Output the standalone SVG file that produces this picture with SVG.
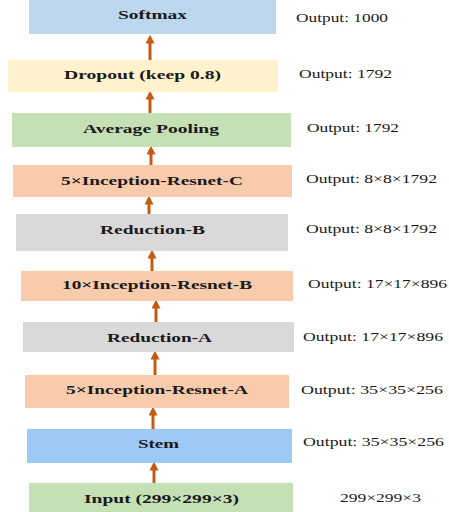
<svg xmlns="http://www.w3.org/2000/svg" width="449" height="512" viewBox="0 0 449 512">
<defs>
<style>
.lbl{font-family:"Liberation Serif","Times New Roman",serif;font-weight:bold;font-size:13.5px;fill:#1a1a1a;}
.out{font-family:"Liberation Serif","Times New Roman",serif;font-size:12.5px;fill:#1a1a1a;}
.arr{stroke:#c55a11;stroke-width:3;fill:none;marker-end:url(#ah);}
</style>
<marker id="ah" markerWidth="3" markerHeight="3" refX="1.2" refY="1.5" orient="auto" markerUnits="strokeWidth">
<path d="M0,0 L3,1.5 L0,3 Z" fill="#c55a11"/>
</marker>
</defs>
<rect width="449" height="512" fill="#ffffff"/>
<g id="connectors">
<line class="arr" x1="150" y1="60" x2="150" y2="40"/>
<line class="arr" x1="150" y1="113" x2="150" y2="96"/>
<line class="arr" x1="151" y1="165" x2="151" y2="151"/>
<line class="arr" x1="149" y1="214" x2="149" y2="201"/>
<line class="arr" x1="152" y1="271" x2="152" y2="255"/>
<line class="arr" x1="156" y1="322" x2="156" y2="305"/>
<line class="arr" x1="155" y1="375" x2="155" y2="356"/>
<line class="arr" x1="153" y1="429" x2="153" y2="412"/>
<line class="arr" x1="154" y1="483" x2="154" y2="467"/>
</g>
<g id="softmax">
<rect x="29" y="0" width="247" height="34" fill="#bdd7ee"/>
<text class="lbl" x="118" y="18.5" textLength="69" lengthAdjust="spacingAndGlyphs">Softmax</text>
<text class="out" x="296" y="21.5" textLength="92" lengthAdjust="spacingAndGlyphs">Output: 1000</text>
</g>
<g id="dropout">
<rect x="8" y="60" width="270" height="32" fill="#fff2cc"/>
<text class="lbl" x="64" y="78.5" textLength="157" lengthAdjust="spacingAndGlyphs">Dropout (keep 0.8)</text>
<text class="out" x="299" y="77.5" textLength="93" lengthAdjust="spacingAndGlyphs">Output: 1792</text>
</g>
<g id="avgpool">
<rect x="12" y="113" width="279" height="34" fill="#c5e0b4"/>
<text class="lbl" x="83" y="132.5" textLength="136" lengthAdjust="spacingAndGlyphs">Average Pooling</text>
<text class="out" x="307" y="132" textLength="92" lengthAdjust="spacingAndGlyphs">Output: 1792</text>
</g>
<g id="irc">
<rect x="13" y="165" width="279" height="32" fill="#f8cbad"/>
<text class="lbl" x="61" y="184.5" textLength="182" lengthAdjust="spacingAndGlyphs">5×Inception-Resnet-C</text>
<text class="out" x="306" y="183" textLength="131" lengthAdjust="spacingAndGlyphs">Output: 8×8×1792</text>
</g>
<g id="reductionB">
<rect x="16" y="214" width="272" height="37" fill="#d9d9d9"/>
<text class="lbl" x="100" y="233.5" textLength="105" lengthAdjust="spacingAndGlyphs">Reduction-B</text>
<text class="out" x="306" y="233" textLength="131" lengthAdjust="spacingAndGlyphs">Output: 8×8×1792</text>
</g>
<g id="irb">
<rect x="21" y="271" width="272" height="30" fill="#f8cbad"/>
<text class="lbl" x="62" y="288.5" textLength="190" lengthAdjust="spacingAndGlyphs">10×Inception-Resnet-B</text>
<text class="out" x="308" y="288" textLength="139" lengthAdjust="spacingAndGlyphs">Output: 17×17×896</text>
</g>
<g id="reductionA">
<rect x="23" y="322" width="271" height="30" fill="#d9d9d9"/>
<text class="lbl" x="107" y="341.5" textLength="105" lengthAdjust="spacingAndGlyphs">Reduction-A</text>
<text class="out" x="303" y="341" textLength="140" lengthAdjust="spacingAndGlyphs">Output: 17×17×896</text>
</g>
<g id="ira">
<rect x="25" y="375" width="264" height="33" fill="#f8cbad"/>
<text class="lbl" x="66" y="394" textLength="182" lengthAdjust="spacingAndGlyphs">5×Inception-Resnet-A</text>
<text class="out" x="301" y="393.5" textLength="142" lengthAdjust="spacingAndGlyphs">Output: 35×35×256</text>
</g>
<g id="stem">
<rect x="27" y="429" width="265" height="34" fill="#9dc9f5"/>
<text class="lbl" x="138" y="447.5" textLength="41" lengthAdjust="spacingAndGlyphs">Stem</text>
<text class="out" x="303" y="446" textLength="141" lengthAdjust="spacingAndGlyphs">Output: 35×35×256</text>
</g>
<g id="input">
<rect x="29" y="483" width="264" height="29" fill="#c5e0b4"/>
<text class="lbl" x="84" y="502.5" textLength="155" lengthAdjust="spacingAndGlyphs">Input (299×299×3)</text>
<text class="out" x="340" y="501.5" textLength="81" lengthAdjust="spacingAndGlyphs">299×299×3</text>
</g>
</svg>
